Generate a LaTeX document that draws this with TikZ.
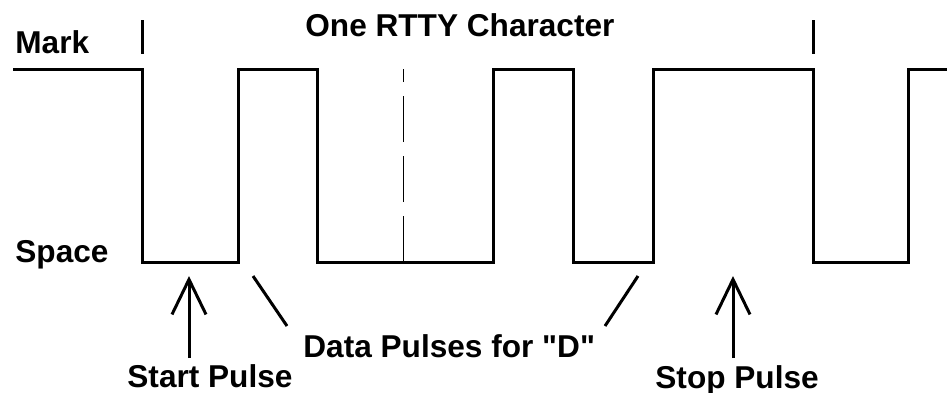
\documentclass[tikz,border=0pt]{standalone}
\usepackage{fontspec}
\setmainfont{Liberation Sans}
\usetikzlibrary{arrows.meta}
\begin{document}
\begin{tikzpicture}[
    x=0.5pt, y=-0.5pt,
    lbl/.style={anchor=base west, inner sep=0pt, font=\fontsize{15.8}{19}\selectfont\bfseries},
    wave/.style={line width=1.5pt, line join=miter},
    ptr/.style={line width=1.5pt, -{Straight Barb[length=17.5pt, width=17pt]}}
    ]
    \useasboundingbox (0,0) rectangle (947,392);

    \node[lbl] (mark) at (15,53) {Mark};
    \node[lbl] (space) at (15,262) {Space};
    \node[lbl] (title) at (305,36) {One RTTY Character};
    \node[lbl] (data) at (303,357) {Data Pulses for \textquotedbl D\textquotedbl};
    \node[lbl] (start) at (127,387) {Start Pulse};
    \node[lbl] (stop) at (655,388) {Stop Pulse};

    % the character on the line
    \draw[wave] (13,69) -- (142,69) -- (142,262) -- (238,262) -- (238,69)
        -- (317,69) -- (317,262) -- (493,262) -- (493,69) -- (573,69)
        -- (573,262) -- (653,262) -- (653,69) -- (813,69) -- (813,262)
        -- (908,262) -- (908,69) -- (947,69);
    \draw[wave] (142,20) -- (142,54);
    \draw[wave] (813,20) -- (813,54);
    \draw[line width=0.5pt, dash pattern=on 23pt off 7pt] (403,262) -- (403,69);

    \coordinate (starttip) at (189,276);
    \coordinate (starttail) at (189,358);
    \coordinate (stoptip) at (733,276);
    \coordinate (stoptail) at (733,358);
    \coordinate (data1) at (253,276);
    \coordinate (data1end) at (287,326);
    \coordinate (data2) at (638,276);
    \coordinate (data2end) at (605,326);

    \draw[ptr] (starttail) -- (starttip);
    \draw[ptr] (stoptail) -- (stoptip);
    \draw[wave] (data1end) -- (data1);
    \draw[wave] (data2end) -- (data2);

\end{tikzpicture}
\end{document}
